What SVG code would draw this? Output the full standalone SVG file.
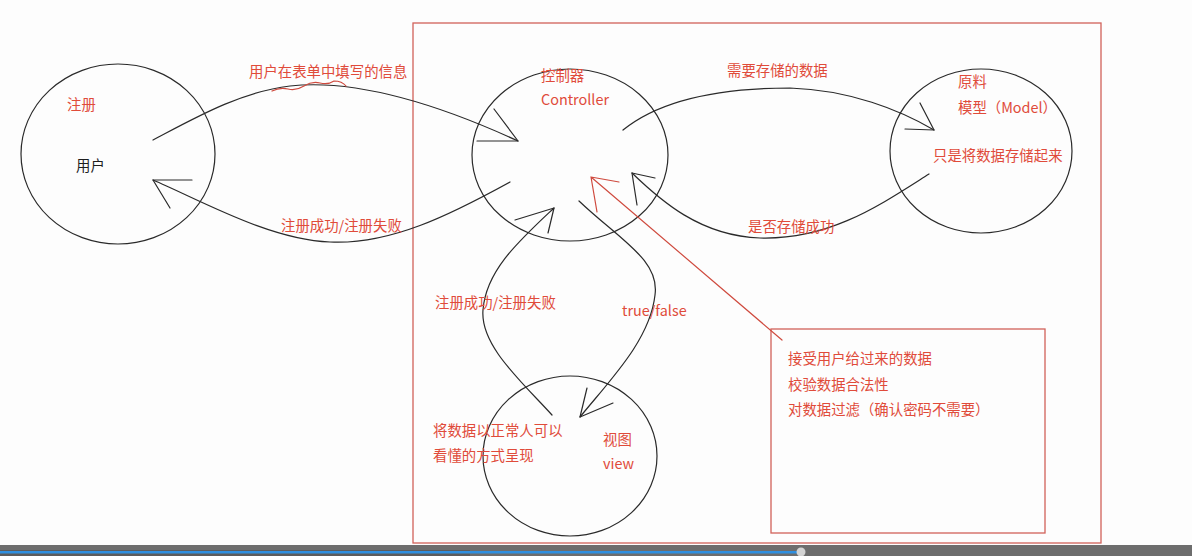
<svg xmlns="http://www.w3.org/2000/svg" width="1192" height="556" viewBox="0 0 1192 556">
<style>
.bg{fill:#fdfdfd}
.node{fill:none;stroke:#2a2a2a;stroke-width:1.2}
.frame{fill:none;stroke:#d2625a;stroke-width:1.3}
.t{font-family:"Noto Sans CJK SC","Microsoft YaHei",sans-serif;font-size:14.4px;fill:#e04b3a}
.k{fill:#1e1e1e}
.c{fill:none;stroke:#2a2a2a;stroke-width:1.2;stroke-linecap:round}
.r{fill:none;stroke:#cf4a3e;stroke-width:1.2;stroke-linecap:round}
</style>
<rect class="bg" x="0" y="0" width="1192" height="556"/>
<g id="frame-main"><rect class="frame" x="413" y="23" width="688" height="520"/></g>
<g id="note">
<rect class="frame" x="771" y="329" width="274" height="204"/>
<text class="t" x="788" y="364">接受用户给过来的数据</text>
<text class="t" x="788" y="390">校验数据合法性</text>
<text class="t" x="788" y="415">对数据过滤（确认密码不需要）</text>
</g>
<g id="user">
<ellipse class="node" cx="118" cy="154" rx="97" ry="90"/>
<text class="t" x="67" y="110">注册</text>
<text class="t k" x="76" y="171">用户</text>
</g>
<g id="controller">
<ellipse class="node" cx="570" cy="155" rx="98" ry="86"/>
<text class="t" x="541" y="81">控制器</text>
<text class="t" x="541" y="105">Controller</text>
</g>
<g id="model">
<ellipse class="node" cx="981" cy="151" rx="91" ry="82"/>
<text class="t" x="958" y="87">原料</text>
<text class="t" x="958" y="113">模型（Model）</text>
<text class="t" x="933" y="161">只是将数据存储起来</text>
</g>
<g id="view">
<ellipse class="node" cx="570" cy="456" rx="87" ry="80"/>
<text class="t" x="603" y="445">视图</text>
<text class="t" x="603" y="469">view</text>
<text class="t" x="433" y="436">将数据以正常人可以</text>
<text class="t" x="433" y="461">看懂的方式呈现</text>
</g>
<g id="connectors">
<path class="c" d="M153,140 C195,118 240,92 290,86 C345,80 420,96 518,141"/>
<path class="c" d="M518,141 L494,109 M518,141 L477,141"/>
<path class="c" d="M510,182 C450,215 390,245 330,242 C270,240 200,200 153,180"/>
<path class="c" d="M153,180 L192,180 M153,180 L170,208"/>
<path class="c" d="M623,130 C660,100 720,88 790,88 C850,90 900,110 934,130"/>
<path class="c" d="M934,130 L920,103 M934,130 L905,129"/>
<path class="c" d="M929,174 C880,205 830,240 760,238 C700,236 660,200 632,173"/>
<path class="c" d="M632,173 L655,178 M632,173 L637,205"/>
<path class="c" d="M552,415 C520,380 480,345 483,310 C486,270 520,240 554,208"/>
<path class="c" d="M554,208 L515,220 M554,208 L548,233"/>
<path class="c" d="M579,201 C620,240 660,260 655,295 C650,340 610,380 580,417"/>
<path class="c" d="M580,417 L587,388 M580,417 L613,403"/>
<path class="r" d="M591,177 L782,340 M591,177 L619,182 M591,177 L597,212"/>
<path class="r" d="M272,91 q8,-4 16,-2 t16,-3 t16,-3 t14,-2 q8,0 12,5"/>
<text class="t" x="249" y="77">用户在表单中填写的信息</text>
<text class="t" x="281" y="231">注册成功/注册失败</text>
<text class="t" x="727" y="76">需要存储的数据</text>
<text class="t" x="748" y="232">是否存储成功</text>
<text class="t" x="435" y="308">注册成功/注册失败</text>
<text class="t" x="622" y="316">true/false</text>
</g>
<g id="player-bar">
<rect x="0" y="545" width="1192" height="11" fill="#6d6d6d"/>
<rect x="0" y="550" width="470" height="6" fill="#5c5c5c"/>
<rect x="0" y="551" width="801" height="2.5" fill="#2f8fe0"/>
<circle cx="801" cy="552" r="4.5" fill="#d4d4d4"/>
</g>
</svg>
